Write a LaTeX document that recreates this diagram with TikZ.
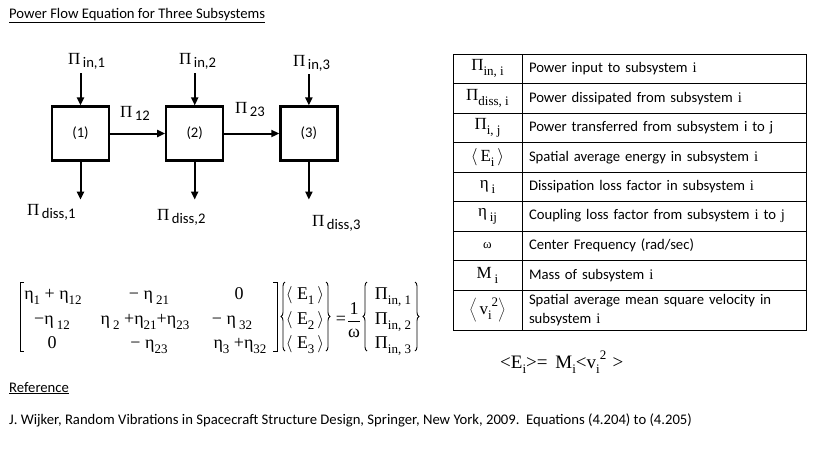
\documentclass[tikz,border=0pt]{standalone}
\usepackage{fontspec}
\setmainfont{Carlito}
\newfontfamily\tnr{Liberation Serif}
\usepackage{tikz}
\usetikzlibrary{arrows.meta,positioning,decorations.pathreplacing}

% lowered / raised small text for indices
\newcommand\subtx[1]{\raisebox{-0.28em}{\fontsize{13}{13}\selectfont #1}}
\newcommand\suptx[1]{\raisebox{0.45em}{\fontsize{13}{13}\selectfont #1}}
\newcommand\Pilbl[1]{{\tnr\fontsize{17}{17}\selectfont Π}\,\raisebox{-3pt}{#1}}
\newcommand\tsym[1]{{\tnr\fontsize{17}{17}\selectfont #1}}

\begin{document}
\begin{tikzpicture}[
    x=1pt, y=-1pt,
    font=\fontsize{14.67}{19}\selectfont,
    node distance=55pt,
    sysbox/.style={draw, line width=2.2pt, minimum width=57pt, minimum height=54pt, inner sep=0pt},
    flow/.style={-{Triangle[length=8pt,width=7pt]}, line width=2pt},
    lbl/.style={anchor=base west, inner sep=0pt},
    cell/.style={draw, line width=0.8pt, minimum height=29.5pt, inner sep=0pt, outer sep=0pt},
    sym/.style={cell, minimum width=69pt},
    dsc/.style={cell, text width=270pt, inner xsep=7pt, align=left},
    mat/.style={anchor=base, inner sep=0pt, font=\tnr\fontsize{18}{18}\selectfont},
    brk/.style={line width=0.9pt},
    brc/.style={line width=0.9pt, decorate, decoration={brace, amplitude=4pt}}
  ]
    \useasboundingbox (0,0) rectangle (820,448);

    \node[lbl] (title) at (9,18) {\underline{Power Flow Equation for Three Subsystems}};

    % subsystems and power flows
    \node[sysbox] (b1) at (80.5,133.5) {(1)};
    \node[sysbox, right=of b1] (b2) {(2)};
    \node[sysbox, right=of b2] (b3) {(3)};

    \coordinate[above=32pt of b1] (in1);
    \coordinate[above=32pt of b2] (in2);
    \coordinate[above=31pt of b3] (in3);
    \coordinate[below=38pt of b1] (out1);
    \coordinate[below=38pt of b2] (out2);
    \coordinate[below=38pt of b3] (out3);

    \draw[flow] (in1) -- (b1);
    \draw[flow] (in2) -- (b2);
    \draw[flow] (in3) -- (b3);
    \draw[flow] (b1) -- (b2);
    \draw[flow] (b2) -- (b3);
    \draw[flow] (b1) -- (out1);
    \draw[flow] (b2) -- (out2);
    \draw[flow] (b3) -- (out3);

    \node[lbl] (pin1) at (68,64) {\Pilbl{in,1}};
    \node[lbl] (pin2) at (179,64) {\Pilbl{in,2}};
    \node[lbl] (pin3) at (293,66) {\Pilbl{in,3}};
    \node[lbl] (p12) at (120,117) {\Pilbl{12}};
    \node[lbl] (p23) at (235,113) {\Pilbl{23}};
    \node[lbl] (pd1) at (27,215) {\Pilbl{diss,1}};
    \node[lbl] (pd2) at (157,220) {\Pilbl{diss,2}};
    \node[lbl] (pd3) at (312,226) {\Pilbl{diss,3}};

    % nomenclature table
    \node[sym, anchor=north west] (s1) at (453,54) {\tsym{Π\subtx{in, i}}};
    \node[dsc, right=0pt of s1] (d1) {Power input to subsystem {\tnr i}};
    \node[sym, below=0pt of s1] (s2) {\tsym{Π\subtx{diss, i}}};
    \node[dsc, right=0pt of s2] (d2) {Power dissipated from subsystem {\tnr i}};
    \node[sym, below=0pt of s2] (s3) {\tsym{Π\subtx{i, j}}};
    \node[dsc, right=0pt of s3] (d3) {Power transferred from subsystem i to j};
    \node[sym, below=0pt of s3] (s4) {\tsym{$\langle$\,E\subtx{i}\,$\rangle$}};
    \node[dsc, right=0pt of s4] (d4) {Spatial average energy in subsystem {\tnr i}};
    \node[sym, below=0pt of s4] (s5) {\tsym{η\,\subtx{i}}};
    \node[dsc, right=0pt of s5] (d5) {Dissipation loss factor in subsystem {\tnr i}};
    \node[sym, below=0pt of s5] (s6) {\tsym{η\,\subtx{ij}}};
    \node[dsc, right=0pt of s6] (d6) {Coupling loss factor from subsystem {\tnr i} to {\tnr j}};
    \node[sym, below=0pt of s6] (s7) {\tsym{\fontsize{13}{13}\selectfont ω}};
    \node[dsc, right=0pt of s7] (d7) {Center Frequency (rad/sec)};
    \node[sym, below=0pt of s7] (s8) {\tsym{M\,\subtx{i}}};
    \node[dsc, right=0pt of s8] (d8) {Mass of subsystem {\tnr i}};
    \node[sym, below=0pt of s8, minimum height=40pt] (s9) {\tsym{$\biggl\langle$\,v\subtx{i}\suptx{2}$\biggr\rangle$}};
    \node[dsc, right=0pt of s9, minimum height=40pt] (d9) {Spatial average mean square velocity in\\subsystem {\tnr i}};

    \node[lbl] (eqE) at (500,368) {{\tnr\fontsize{19}{19}\selectfont <E\subtx{i}>= \,M\subtx{i}<v\subtx{i}\suptx{2}\,\,>}};

    % matrix equation
    \node[mat] (m11) at (53,299) {η\subtx{1} + η\subtx{12}};
    \node[mat] (m12) at (149,299) {− η\,\subtx{21}};
    \node[mat] (m13) at (239,299) {0};
    \node[mat] (m21) at (52,324) {−η\,\subtx{12}};
    \node[mat] (m22) at (145,324) {η\,\subtx{2} +η\subtx{21}+η\subtx{23}};
    \node[mat] (m23) at (232,324) {− η\,\subtx{32}};
    \node[mat] (m31) at (52,348) {0};
    \node[mat] (m32) at (149,348) {− η\subtx{23}};
    \node[mat] (m33) at (240,348) {η\subtx{3} +η\subtx{32}};

    \node[mat] (e1) at (305,299) {$\langle$\ E\subtx{1}\,$\rangle$};
    \node[mat] (e2) at (305,324) {$\langle$\ E\subtx{2}\,$\rangle$};
    \node[mat] (e3) at (305,348) {$\langle$\ E\subtx{3}\,$\rangle$};
    \node[mat] (eq) at (341,324) {=};
    \node[inner sep=0pt, font=\tnr\fontsize{18}{18}\selectfont] (frac) at (354,320) {$\displaystyle\frac{\hbox{1}}{\hbox{ω}}$};
    \node[mat] (q1) at (393,299) {Π\subtx{in, 1}};
    \node[mat] (q2) at (393,324) {Π\subtx{in, 2}};
    \node[mat] (q3) at (393,348) {Π\subtx{in, 3}};

    \draw[brk] (24,282) -- (20,282) -- (20,351) -- (24,351);
    \draw[brk] (273,282) -- (277,282) -- (277,351) -- (273,351);
    \draw[brc] (285,351) -- (285,282);
    \draw[brc] (326,282) -- (326,351);
    \draw[brc] (367,351) -- (367,282);
    \draw[brc] (415,282) -- (415,351);

    % reference
    \node[lbl] (refhd) at (9,392) {\underline{Reference}};
    \node[lbl] (cite) at (9,424) {J. Wijker, Random Vibrations in Spacecraft Structure Design, Springer, New York, 2009.\ \ Equations (4.204) to (4.205)};
  \end{tikzpicture}
\end{document}
